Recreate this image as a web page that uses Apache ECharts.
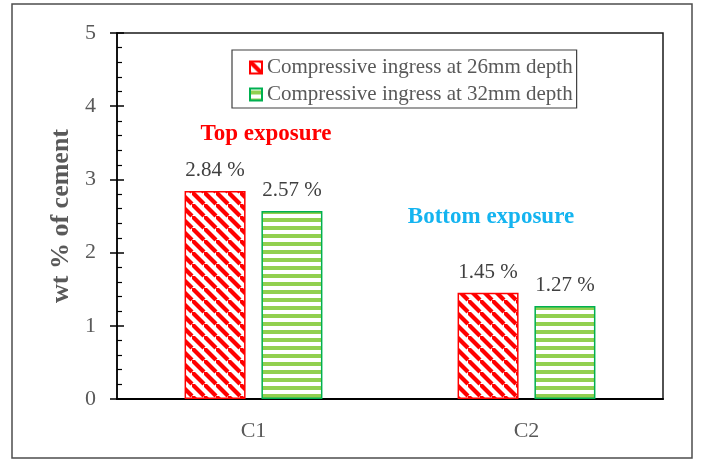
<!DOCTYPE html>
<html><head><meta charset="utf-8">
<script src="https://cdn.jsdelivr.net/npm/echarts@6/dist/echarts.min.js"></script>
<style>html,body{margin:0;padding:0;background:#fff}#c{width:701px;height:459px}</style>
</head><body><div id="c"></div>
<script>
const categories = ['C1', 'C2'];
const seriesNames = ['Compressive ingress at 26mm depth', 'Compressive ingress at 32mm depth'];
const depth26 = [2.84, 1.45];
const depth32 = [2.57, 1.27];
const yTicks = [0, 1, 2, 3, 4, 5];

function diagPattern() {
  const s = 12, c = document.createElement('canvas');
  c.width = s; c.height = s;
  const g = c.getContext('2d');
  g.fillStyle = '#fff'; g.fillRect(0, 0, s, s);
  g.strokeStyle = '#FF0000'; g.lineWidth = 4.2;
  [[0, 0, s, s], [-s, 0, 0, s], [0, -s, s, 0]].forEach(l => {
    g.beginPath(); g.moveTo(l[0], l[1]); g.lineTo(l[2], l[3]); g.stroke();
  });
  return c;
}
function horizPattern() {
  const s = 8, c = document.createElement('canvas');
  c.width = s; c.height = s;
  const g = c.getContext('2d');
  g.fillStyle = '#fff'; g.fillRect(0, 0, s, s);
  g.fillStyle = '#92D050'; g.fillRect(0, 2, s, 4);
  return c;
}

const font = 'Liberation Serif';
const chart = echarts.init(document.getElementById('c'), null, {renderer: 'canvas'});
chart.setOption({
  animation: false,
  backgroundColor: '#fff',
  textStyle: {fontFamily: font},
  grid: {left: 117, right: 38, top: 33, bottom: 60, show: true, borderColor: '#1a1a1a', borderWidth: 1.5, outerBoundsMode: 'none', containLabel: false},
  legend: {
    orient: 'vertical', left: 232, top: 50,
    padding: [7, 4, 3, 17], itemGap: 6, itemWidth: 12, itemHeight: 12, icon: 'rect',
    borderColor: '#404040', borderWidth: 1.2, backgroundColor: '#fff',
    textStyle: {fontFamily: font, fontSize: 21, color: '#595959'},
    data: seriesNames
  },
  xAxis: {
    type: 'category', data: categories,
    axisLine: {lineStyle: {color: '#000', width: 2}},
    axisTick: {show: false},
    axisLabel: {fontFamily: font, fontSize: 22, color: '#595959', margin: 21},
    splitLine: {show: false}
  },
  yAxis: [{
    type: 'value', min: yTicks[0], max: yTicks[yTicks.length - 1], interval: 1, position: 'left',
    name: 'wt % of cement', nameLocation: 'middle', nameGap: 38,
    nameTextStyle: {fontFamily: font, fontSize: 26, fontWeight: 'bold', color: '#595959'},
    axisLine: {show: true, lineStyle: {color: '#000', width: 1.5}},
    axisTick: {show: true, inside: false, length: 7, lineStyle: {color: '#000', width: 1.5}},
    axisLabel: {fontFamily: font, fontSize: 22, color: '#595959', margin: 21},
    splitLine: {show: false}
  }, {
    type: 'value', min: yTicks[0], max: yTicks[yTicks.length - 1], interval: 1, position: 'left',
    axisLine: {show: false},
    axisTick: {show: true, inside: true, length: 7, lineStyle: {color: '#000', width: 1.5}},
    minorTick: {show: true, splitNumber: 5, length: 5, lineStyle: {color: '#000', width: 1.2}},
    axisLabel: {show: false},
    splitLine: {show: false}
  }],
  series: [{
    name: seriesNames[0], type: 'bar', data: depth26, barWidth: 61, barGap: '26%', yAxisIndex: 0,
    itemStyle: {color: {image: diagPattern(), repeat: 'repeat'}, borderColor: '#FF0000', borderWidth: 1.5},
    label: {show: true, position: 'top', distance: 10, formatter: '{c} %', fontFamily: font, fontSize: 21, color: '#404040'}
  }, {
    name: seriesNames[1], type: 'bar', data: depth32, barWidth: 61, yAxisIndex: 0,
    itemStyle: {color: {image: horizPattern(), repeat: 'repeat'}, borderColor: '#00B050', borderWidth: 1.5},
    label: {show: true, position: 'top', distance: 10, formatter: '{c} %', fontFamily: font, fontSize: 21, color: '#404040'}
  }],
  graphic: [
    {type: 'rect', z: -1, shape: {x: 12, y: 4, width: 680, height: 454}, style: {fill: 'none', stroke: '#4d4d4d', lineWidth: 1.5}},
    {type: 'text', x: 266, y: 134, style: {text: 'Top exposure', fontFamily: font, fontSize: 23, fontWeight: 'bold', fill: '#FF0000', align: 'center', verticalAlign: 'middle'}},
    {type: 'text', x: 491, y: 217, style: {text: 'Bottom exposure', fontFamily: font, fontSize: 23, fontWeight: 'bold', fill: '#14B4F0', align: 'center', verticalAlign: 'middle'}}
  ]
});
</script></body></html>
